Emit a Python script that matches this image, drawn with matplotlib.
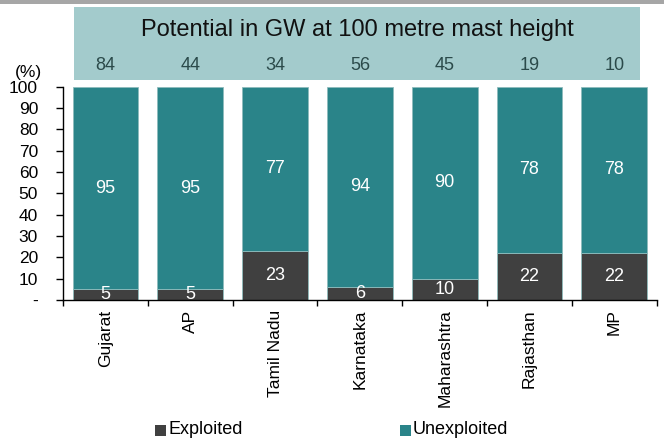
import matplotlib
matplotlib.use("Agg")
import matplotlib.pyplot as plt
from matplotlib.patches import Rectangle
import numpy as np

plt.rcParams['font.family'] = ['Liberation Sans', 'DejaVu Sans']

states = ['Gujarat', 'AP', 'Tamil Nadu', 'Karnataka', 'Maharashtra', 'Rajasthan', 'MP']
exploited = [5, 5, 23, 6, 10, 22, 22]
unexploited = [95, 95, 77, 94, 90, 78, 78]
potential_gw = [84, 44, 34, 56, 45, 19, 10]

c_exp = '#404040'
c_unexp = '#2a8489'
c_panel = '#a3cbcc'

fig = plt.figure(figsize=(6.64, 4.41), dpi=100)
ax = fig.add_axes([0.095, 0.32, 0.894, 0.483])

x = np.arange(len(states))
w = 0.775
ax.bar(x, exploited, w, color=c_exp, edgecolor='#8fbcbc', linewidth=0.6, zorder=2)
ax.bar(x, unexploited, w, bottom=exploited, color=c_unexp, edgecolor='#8fbcbc',
       linewidth=0.6, zorder=2)

for i in range(len(states)):
    ax.text(x[i], exploited[i] / 2, str(exploited[i]), ha='center', va='center',
            color='white', fontsize=13, zorder=3)
    ax.text(x[i], exploited[i] + unexploited[i] / 2, str(unexploited[i]),
            ha='center', va='center', color='white', fontsize=13, zorder=3)

ax.set_xlim(-0.5, len(states) - 0.5)
ax.set_ylim(0, 100)
ax.set_yticks(range(0, 101, 10))
ax.set_yticklabels(['-'] + [str(v) for v in range(10, 101, 10)], fontsize=12.5)
ax.set_xticks(x)
ax.set_xticklabels(states, rotation=90, fontsize=12.5, va='top')
ax.tick_params(axis='x', length=0, pad=7)
ax.set_xticks(np.arange(-0.5, len(states)), minor=True)
ax.tick_params(axis='x', which='minor', length=4, width=1, direction='out')
ax.tick_params(axis='y', length=5, width=1, direction='out', pad=13)
for s in ['top', 'right']:
    ax.spines[s].set_visible(False)
ax.spines['left'].set_linewidth(1)
ax.spines['bottom'].set_linewidth(1)

# top grey strip
fig.add_artist(Rectangle((0, 1 - 3.5 / 441), 1, 3.5 / 441, transform=fig.transFigure,
                         color='#a6a6a6', lw=0))
# teal header panel
fig.add_artist(Rectangle((74 / 664, 1 - 80 / 441), (640 - 74) / 664, 73 / 441,
                         transform=fig.transFigure, color=c_panel, lw=0, zorder=0))
fig.text(357 / 664, 1 - 30 / 441, 'Potential in GW at 100 metre mast height',
         ha='center', va='center', fontsize=17, color='#111111')
for i, p in enumerate(potential_gw):
    xd = ax.transData.transform((x[i], 0))[0]
    fig.text(xd / 664, 1 - 66 / 441, str(p), ha='center', va='center',
             fontsize=13, color='#2b4a4a')
fig.text(28 / 664, 1 - 73 / 441, '(%)', ha='center', va='center', fontsize=12.5)

# legend
for lx, lbl, col in [(155, 'Exploited', c_exp), (400, 'Unexploited', c_unexp)]:
    fig.add_artist(Rectangle((lx / 664, 1 - 436 / 441), 11 / 664, 11 / 441,
                             transform=fig.transFigure, color=col, lw=0))
    fig.text((lx + 13) / 664, 1 - 430 / 441, lbl, ha='left', va='center', fontsize=13)

fig.savefig('out.png', dpi=100)
